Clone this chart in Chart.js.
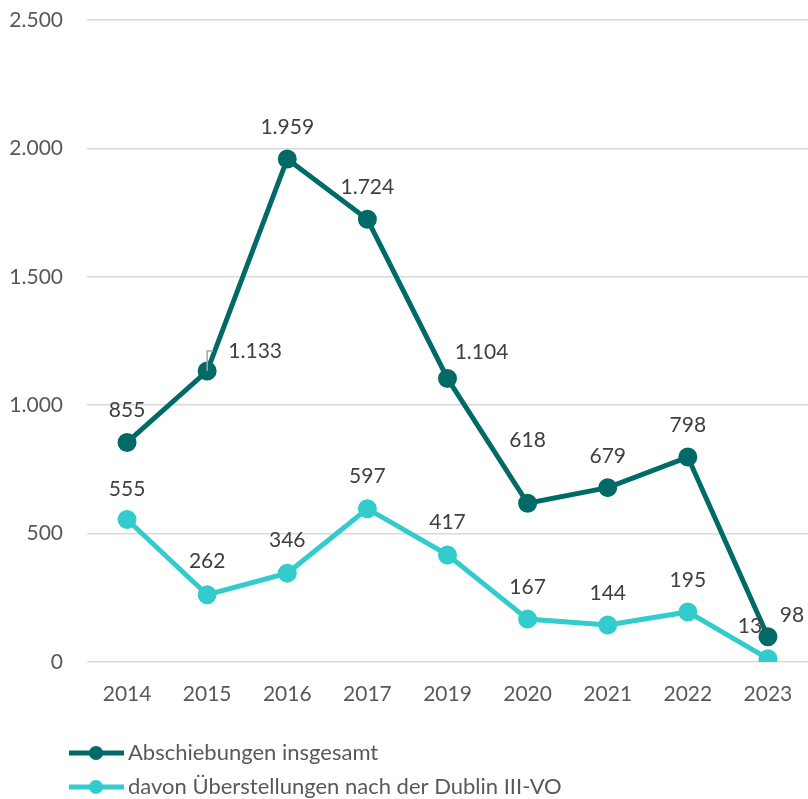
<!DOCTYPE html>
<html>
<head>
<meta charset="utf-8">
<script src="https://cdn.jsdelivr.net/npm/chart.js@4/dist/chart.umd.min.js"></script>
<style>
  html, body { margin: 0; padding: 0; background: #fff; }
  #wrap { width: 808px; height: 799px; position: relative; }
</style>
</head>
<body>
<div id="wrap"><canvas id="myChart"></canvas></div>
<script>
const jahre = ["2014", "2015", "2016", "2017", "2019", "2020", "2021", "2022", "2023"];
const abschiebungen = [855, 1133, 1959, 1724, 1104, 618, 679, 798, 98];
const dublin = [555, 262, 346, 597, 417, 167, 144, 195, 13];
const yTicks = [0, 500, 1000, 1500, 2000, 2500];
const serienNamen = ["Abschiebungen insgesamt", "davon Überstellungen nach der Dublin III-VO"];

const schrift = "Lato, 'Open Sans', sans-serif";
const textFarbe = "#595959";

// Verschiebung der Beschriftungen (dx, dy) relativ zum Punkt
const versatz1 = [[0, -32], [48, -20], [0, -32], [0, -32], [34, -26], [0, -63], [0, -31], [0, -32], [24, -22]];
const versatz2 = [[0, -30], [0, -33], [0, -33], [0, -32], [0, -33], [0, -32], [0, -32], [0, -32], [-18, -32]];

function zahl(v) {
  return v.toLocaleString("de-DE");
}

const beschriftung = {
  id: "beschriftung",
  afterDatasetsDraw(chart) {
    const ctx = chart.ctx;
    ctx.save();
    ctx.font = "21px " + schrift;
    ctx.fillStyle = "#404040";
    ctx.textAlign = "center";
    ctx.textBaseline = "middle";
    [versatz1, versatz2].forEach((vs, i) => {
      const meta = chart.getDatasetMeta(i);
      meta.data.forEach((p, j) => {
        const v = chart.data.datasets[i].data[j];
        ctx.fillText(zahl(v), p.x + vs[j][0], p.y + vs[j][1]);
      });
    });
    // Fuehrungslinie bei 2015
    const p = chart.getDatasetMeta(0).data[1];
    ctx.strokeStyle = "#a6a6a6";
    ctx.lineWidth = 1.5;
    ctx.beginPath();
    ctx.moveTo(p.x, p.y);
    ctx.lineTo(p.x, p.y - 20);
    ctx.lineTo(p.x + 6, p.y - 20);
    ctx.stroke();
    ctx.restore();
  }
};

const legende = {
  id: "legende",
  afterDraw(chart) {
    const ctx = chart.ctx;
    ctx.save();
    ctx.font = "22px " + schrift;
    ctx.textBaseline = "middle";
    chart.data.datasets.forEach((ds, i) => {
      const y = 753 + i * 34;
      ctx.strokeStyle = ds.borderColor;
      ctx.lineWidth = 5;
      ctx.beginPath();
      ctx.moveTo(69, y);
      ctx.lineTo(124, y);
      ctx.stroke();
      ctx.fillStyle = ds.borderColor;
      ctx.beginPath();
      ctx.arc(96, y, 7, 0, Math.PI * 2);
      ctx.fill();
      ctx.fillStyle = textFarbe;
      ctx.fillText(ds.label, 128, y);
    });
    ctx.restore();
  }
};

const config = {
  type: "line",
  data: {
    labels: jahre,
    datasets: [
      {
        label: serienNamen[0],
        data: abschiebungen,
        borderColor: "#006b66",
        backgroundColor: "#006b66",
        borderWidth: 5,
        pointRadius: 7,
        pointHoverRadius: 7,
        tension: 0
      },
      {
        label: serienNamen[1],
        data: dublin,
        borderColor: "#33cccc",
        backgroundColor: "#33cccc",
        borderWidth: 5,
        pointRadius: 7,
        pointHoverRadius: 7,
        tension: 0
      }
    ]
  },
  options: {
    responsive: true,
    maintainAspectRatio: false,
    animation: false,
    layout: { autoPadding: false, padding: { top: 20, right: -4, bottom: 87, left: 0 } },
    plugins: {
      legend: { display: false },
      tooltip: { enabled: false }
    },
    scales: {
      x: {
        offset: true,
        grid: { display: false, drawTicks: false, offset: true },
        border: { display: false },
        ticks: { color: textFarbe, font: { family: schrift, size: 21 }, padding: 20, maxRotation: 0 },
        afterFit(scale) {
          scale.height = 50;
          scale.paddingLeft = 0;
          scale.paddingRight = 0;
        }
      },
      y: {
        min: 0,
        max: 2500,
        afterBuildTicks(scale) { scale.ticks = yTicks.map(v => ({ value: v })); },
        grid: { color: "#d9d9d9", lineWidth: 1.5, drawTicks: false },
        border: { display: false },
        ticks: {
          color: textFarbe,
          font: { family: schrift, size: 21 },
          padding: 24,
          callback: v => zahl(v)
        },
        afterFit(scale) {
          scale.width = 87;
          scale.paddingTop = 0;
          scale.paddingBottom = 0;
        }
      }
    }
  },
  plugins: [beschriftung, legende]
};

new Chart(document.getElementById("myChart"), config);
</script>
</body>
</html>
